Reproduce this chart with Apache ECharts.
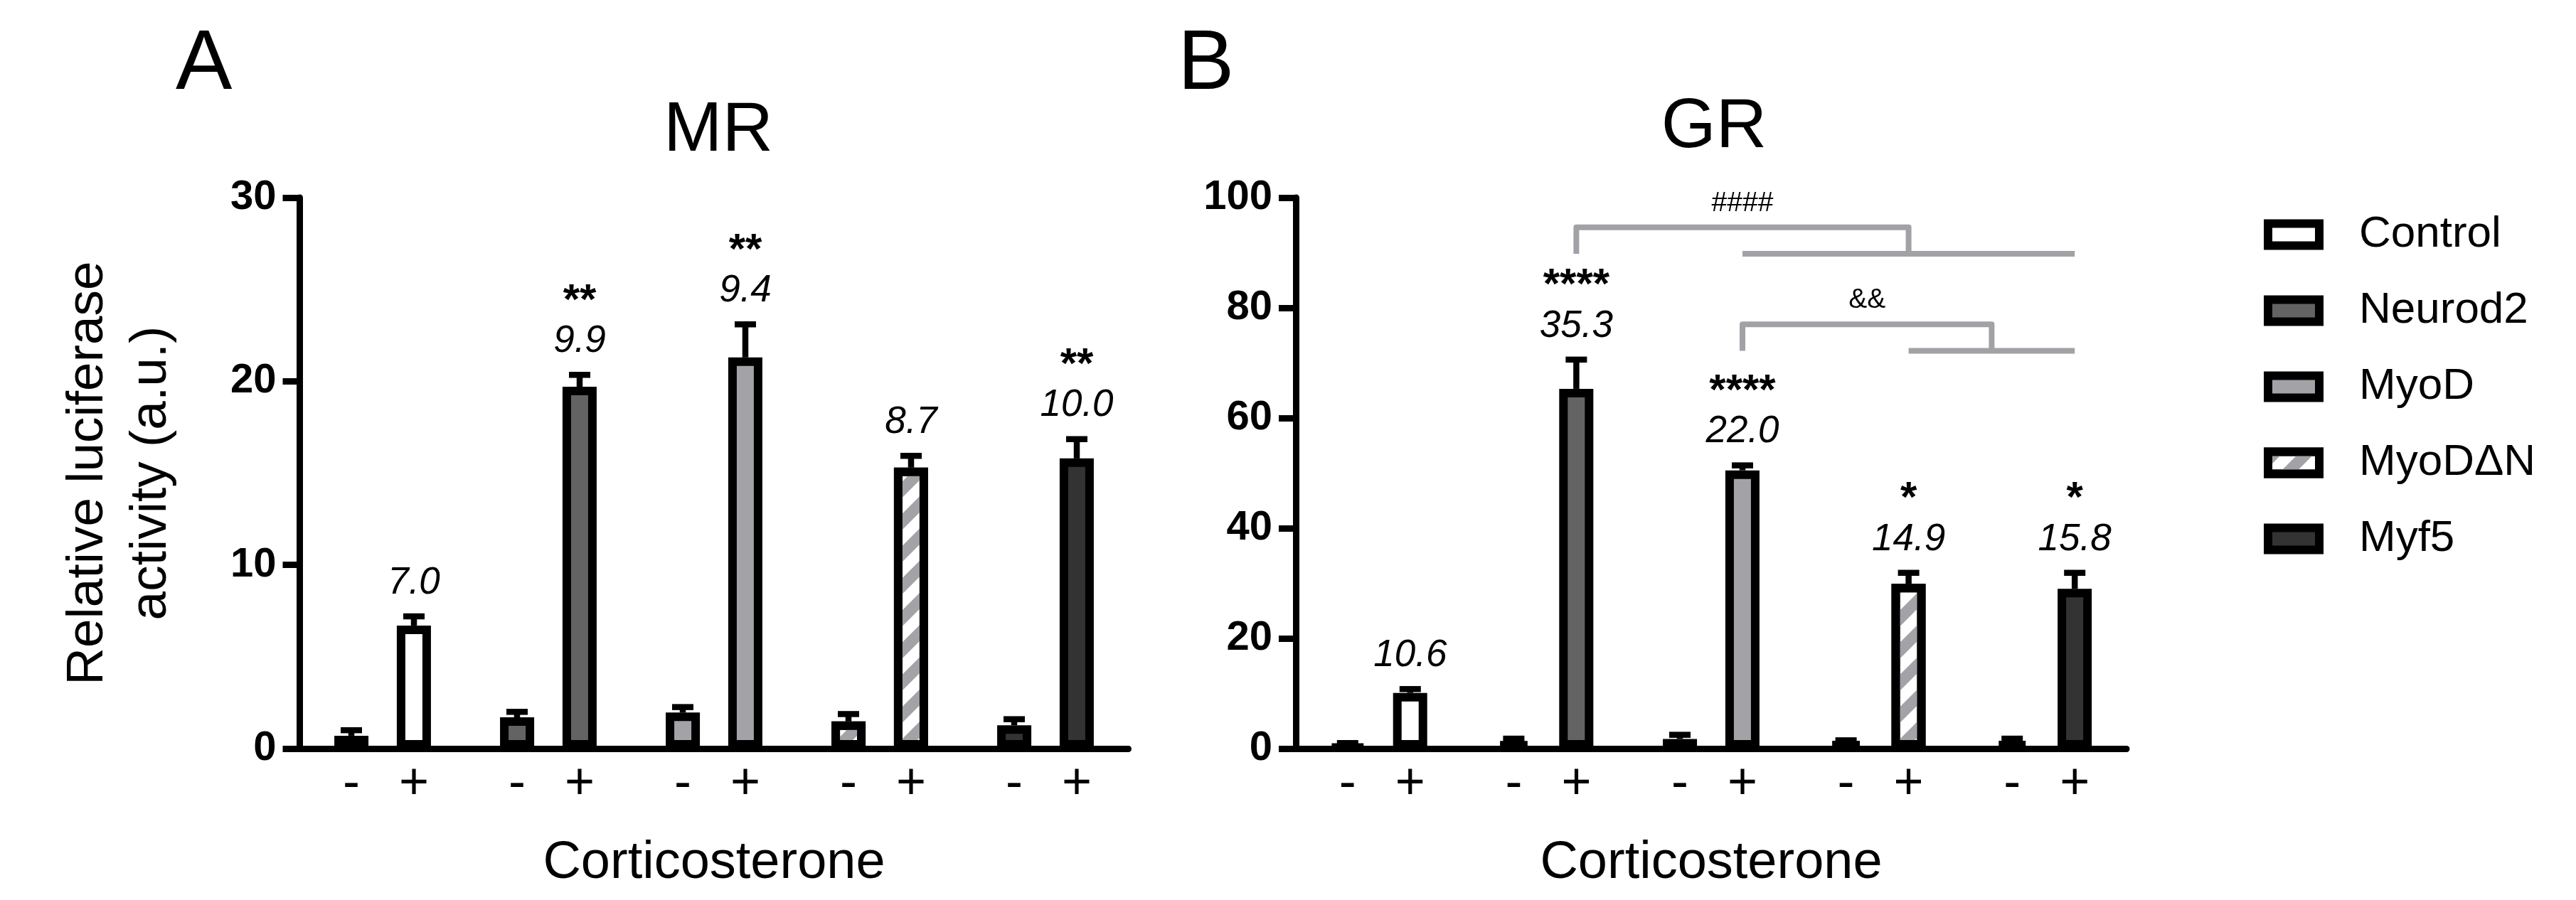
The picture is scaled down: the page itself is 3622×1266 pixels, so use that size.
<!DOCTYPE html>
<html><head><meta charset="utf-8">
<script src="https://cdn.jsdelivr.net/npm/echarts@6/dist/echarts.min.js"></script>
<style>html,body{margin:0;padding:0;background:#fff}#c{width:3622px;height:1266px}</style>
</head><body><div id="c"></div>
<script>
// ---------- data ----------
const groups = ['Control', 'Neurod2', 'MyoD', 'MyoDΔN', 'Myf5'];
const conditions = ['-', '+'];

// Panel A : MR
const mrMinus    = [0.7, 1.7, 1.96, 1.48, 1.27];
const mrMinusErr = [0.3, 0.3, 0.3, 0.4, 0.33];
const mrPlus     = [6.7, 19.7, 21.3, 15.3, 15.8];
const mrPlusErr  = [0.5, 0.65, 1.8, 0.64, 1.05];
const mrFold     = ['7.0', '9.9', '9.4', '8.7', '10.0'];
const mrStars    = ['', '**', '**', '', '**'];
const mrAxis     = {min: 0, max: 30, interval: 10};

// Panel B : GR
const grMinus    = [0.4, 1.2, 1.75, 1.2, 1.3];
const grMinusErr = [0.6, 0.6, 0.75, 0.3, 0.5];
const grPlus     = [10.1, 65.3, 50.5, 29.9, 29.0];
const grPlusErr  = [0.7, 5.3, 0.9, 2.0, 2.9];
const grFold     = ['10.6', '35.3', '22.0', '14.9', '15.8'];
const grStars    = ['', '****', '****', '*', '*'];
const grAxis     = {min: 0, max: 100, interval: 20};

// comparison brackets (panel B): [left group, first group, last group, top value, low value, label]
const grBrackets = [
  [1, 2, 4, 94.6, 89.8, '####'],
  [2, 3, 4, 77.0, 72.2, '&&']
];

// ---------- styles ----------
const FONT = '"Liberation Sans", Arial, Helvetica, sans-serif';
const groupColors = ['#ffffff', '#636363', '#a3a3a7', '#ffffff', '#333333'];
const stripe = {symbol: 'rect', symbolSize: 1, dashArrayX: [1, 0], dashArrayY: [16, 16],
                rotation: -Math.PI / 4, color: '#a3a3a7'};
const BW = 48, OFF = 44, BORDER = 12, LINEW = 9;

function itemStyleFor(i) {
  const s = {color: groupColors[i], borderColor: '#000', borderWidth: BORDER};
  if (i === 3) s.decal = stripe;
  return s;
}

function barSeries(idx, vals, side) {
  return {
    type: 'bar', name: conditions[side] + idx, xAxisIndex: idx, yAxisIndex: idx,
    barWidth: BW, barGap: '83%', silent: true, z: 2,
    data: vals.map((v, i) => ({value: v, itemStyle: itemStyleFor(i)}))
  };
}

function errSeries(idx, minus, minusErr, plus, plusErr) {
  const data = [];
  for (let i = 0; i < groups.length; i++) {
    data.push([i, minus[i], minus[i] + minusErr[i], -1]);
    data.push([i, plus[i], plus[i] + plusErr[i], 1]);
  }
  return {
    type: 'custom', xAxisIndex: idx, yAxisIndex: idx, z: 5, silent: true, clip: false, data,
    renderItem(params, api) {
      const side = api.value(3);
      const b = api.coord([api.value(0), api.value(1)]);
      const t = api.coord([api.value(0), api.value(2)]);
      const x = b[0] + side * OFF;
      return {type: 'group', children: [
        {type: 'line', shape: {x1: x, y1: b[1], x2: x, y2: t[1]}, style: {stroke: '#000', lineWidth: 8.5}},
        {type: 'line', shape: {x1: x - 15, y1: t[1], x2: x + 15, y2: t[1]}, style: {stroke: '#000', lineWidth: 8.5}}
      ]};
    }
  };
}

function annoSeries(idx, plus, plusErr, fold, stars) {
  return {
    type: 'custom', xAxisIndex: idx, yAxisIndex: idx, z: 6, silent: true, clip: false,
    data: groups.map((g, i) => [i, plus[i] + plusErr[i]]),
    renderItem(params, api) {
      const i = params.dataIndex;
      const p = api.coord([api.value(0), api.value(1)]);
      const x = p[0] + OFF, y = p[1] - 47;
      const ch = [{type: 'text', style: {text: fold[i], x, y, align: 'center', verticalAlign: 'middle',
        fontSize: 53, fontStyle: 'italic', fontFamily: FONT, fill: '#000'}}];
      if (stars[i]) ch.push({type: 'text', style: {text: stars[i], x, y: y - 56, align: 'center',
        verticalAlign: 'middle', fontSize: 60, fontWeight: 'bold', fontFamily: FONT, fill: '#000'}});
      return {type: 'group', children: ch};
    }
  };
}

function condSeries(idx) {
  const data = [];
  for (let i = 0; i < groups.length; i++) { data.push([i, 0, 0]); data.push([i, 0, 1]); }
  return {
    type: 'custom', xAxisIndex: idx, yAxisIndex: idx, z: 6, silent: true, clip: false, data,
    renderItem(params, api) {
      const side = api.value(2);
      const p = api.coord([api.value(0), api.value(1)]);
      return {type: 'text', style: {text: conditions[side], x: p[0] + (side ? OFF : -OFF), y: p[1] + 50,
        align: 'center', verticalAlign: 'middle', fontSize: 72, fontFamily: FONT, fill: '#000'}};
    }
  };
}

function bracketSeries(idx, brackets) {
  return {
    type: 'custom', xAxisIndex: idx, yAxisIndex: idx, z: 4, silent: true, clip: false,
    data: brackets.map(b => [b[0], b[3]]),
    renderItem(params, api) {
      const d = brackets[params.dataIndex];
      const xl = api.coord([d[0], 0])[0] + OFF;
      const xf = api.coord([d[1], 0])[0] + OFF;
      const xt = api.coord([d[2], 0])[0] + OFF;
      const xm = (xf + xt) / 2;
      const yT = api.coord([0, d[3]])[1];
      const yL = api.coord([0, d[4]])[1];
      const st = {stroke: '#a2a2a6', lineWidth: 8, fill: null, lineJoin: 'round'};
      return {type: 'group', children: [
        {type: 'polyline', shape: {points: [[xl, yL], [xl, yT], [xm, yT], [xm, yL]]}, style: st},
        {type: 'line', shape: {x1: xf, y1: yL, x2: xt, y2: yL}, style: st},
        {type: 'text', style: {text: d[5], x: (xl + xm) / 2, y: yT - 34, align: 'center', verticalAlign: 'middle',
          fontSize: 39, fontFamily: FONT, fill: '#000'}}
      ]};
    }
  };
}

function xAxisFor(idx) {
  return {
    type: 'category', gridIndex: idx, data: groups, boundaryGap: true,
    axisLine: {show: true, lineStyle: {color: '#000', width: LINEW}},
    axisTick: {show: false}, axisLabel: {show: false},
    name: 'Corticosterone', nameLocation: 'middle', nameGap: 162,
    nameTextStyle: {fontSize: 74, fontFamily: FONT, color: '#000', verticalAlign: 'middle'}
  };
}
function yAxisFor(idx, ax, name) {
  const o = {
    type: 'value', gridIndex: idx, min: ax.min, max: ax.max, interval: ax.interval,
    axisLine: {show: true, lineStyle: {color: '#000', width: LINEW}},
    axisTick: {show: true, length: 24, lineStyle: {color: '#000', width: LINEW}},
    axisLabel: {fontSize: 58, fontWeight: 'bold', fontFamily: FONT, color: '#000', margin: 33},
    splitLine: {show: false}
  };
  if (name) {
    o.name = name; o.nameLocation = 'middle'; o.nameRotate = 90; o.nameGap = 164;
    o.nameTextStyle = {fontSize: 73, lineHeight: 89, fontFamily: FONT, color: '#000'};
  }
  return o;
}

const legendSeries = groups.map((g, i) => ({
  type: 'bar', name: g, xAxisIndex: 2, yAxisIndex: 2, data: [], itemStyle: itemStyleFor(i)
}));

const titleText = (t, x, y, size, align) => ({type: 'text', x, y, silent: true,
  style: {text: t, fontSize: size, fontFamily: FONT, fill: '#000', align, verticalAlign: 'middle'}});

const chart = echarts.init(document.getElementById('c'), null, {renderer: 'canvas'});
chart.setOption({
  backgroundColor: '#fff',
  animation: false,
  grid: [
    {left: 421.5, top: 278, width: 1165, height: 775, containLabel: false, outerBoundsMode: 'none'},
    {left: 1822, top: 278, width: 1168, height: 775, containLabel: false, outerBoundsMode: 'none'},
    {left: 3500, top: 1200, width: 10, height: 10, show: false, containLabel: false, outerBoundsMode: 'none'}
  ],
  xAxis: [xAxisFor(0), xAxisFor(1), {type: 'category', gridIndex: 2, show: false, data: ['x']}],
  yAxis: [yAxisFor(0, mrAxis, 'Relative luciferase\nactivity (a.u.)'), yAxisFor(1, grAxis, null),
          {type: 'value', gridIndex: 2, show: false}],
  legend: {
    orient: 'vertical', left: 3178, top: 294, itemWidth: 72, itemHeight: 31, itemGap: 45,
    data: groups, icon: 'rect', selectedMode: false,
    itemStyle: {borderWidth: BORDER, borderColor: '#000'},
    textStyle: {fontSize: 62, fontFamily: FONT, color: '#000', lineHeight: 62, padding: [0, 0, 0, 51]}
  },
  graphic: [
    titleText('A', 247, 92, 119, 'left'),
    titleText('B', 1656, 92, 119, 'left'),
    titleText('MR', 1010, 185, 99, 'center'),
    titleText('GR', 2410, 180, 99, 'center')
  ],
  series: [
    barSeries(0, mrMinus, 0), barSeries(0, mrPlus, 1),
    errSeries(0, mrMinus, mrMinusErr, mrPlus, mrPlusErr),
    annoSeries(0, mrPlus, mrPlusErr, mrFold, mrStars),
    condSeries(0),
    barSeries(1, grMinus, 0), barSeries(1, grPlus, 1),
    errSeries(1, grMinus, grMinusErr, grPlus, grPlusErr),
    annoSeries(1, grPlus, grPlusErr, grFold, grStars),
    condSeries(1),
    bracketSeries(1, grBrackets)
  ].concat(legendSeries)
});
</script></body></html>
